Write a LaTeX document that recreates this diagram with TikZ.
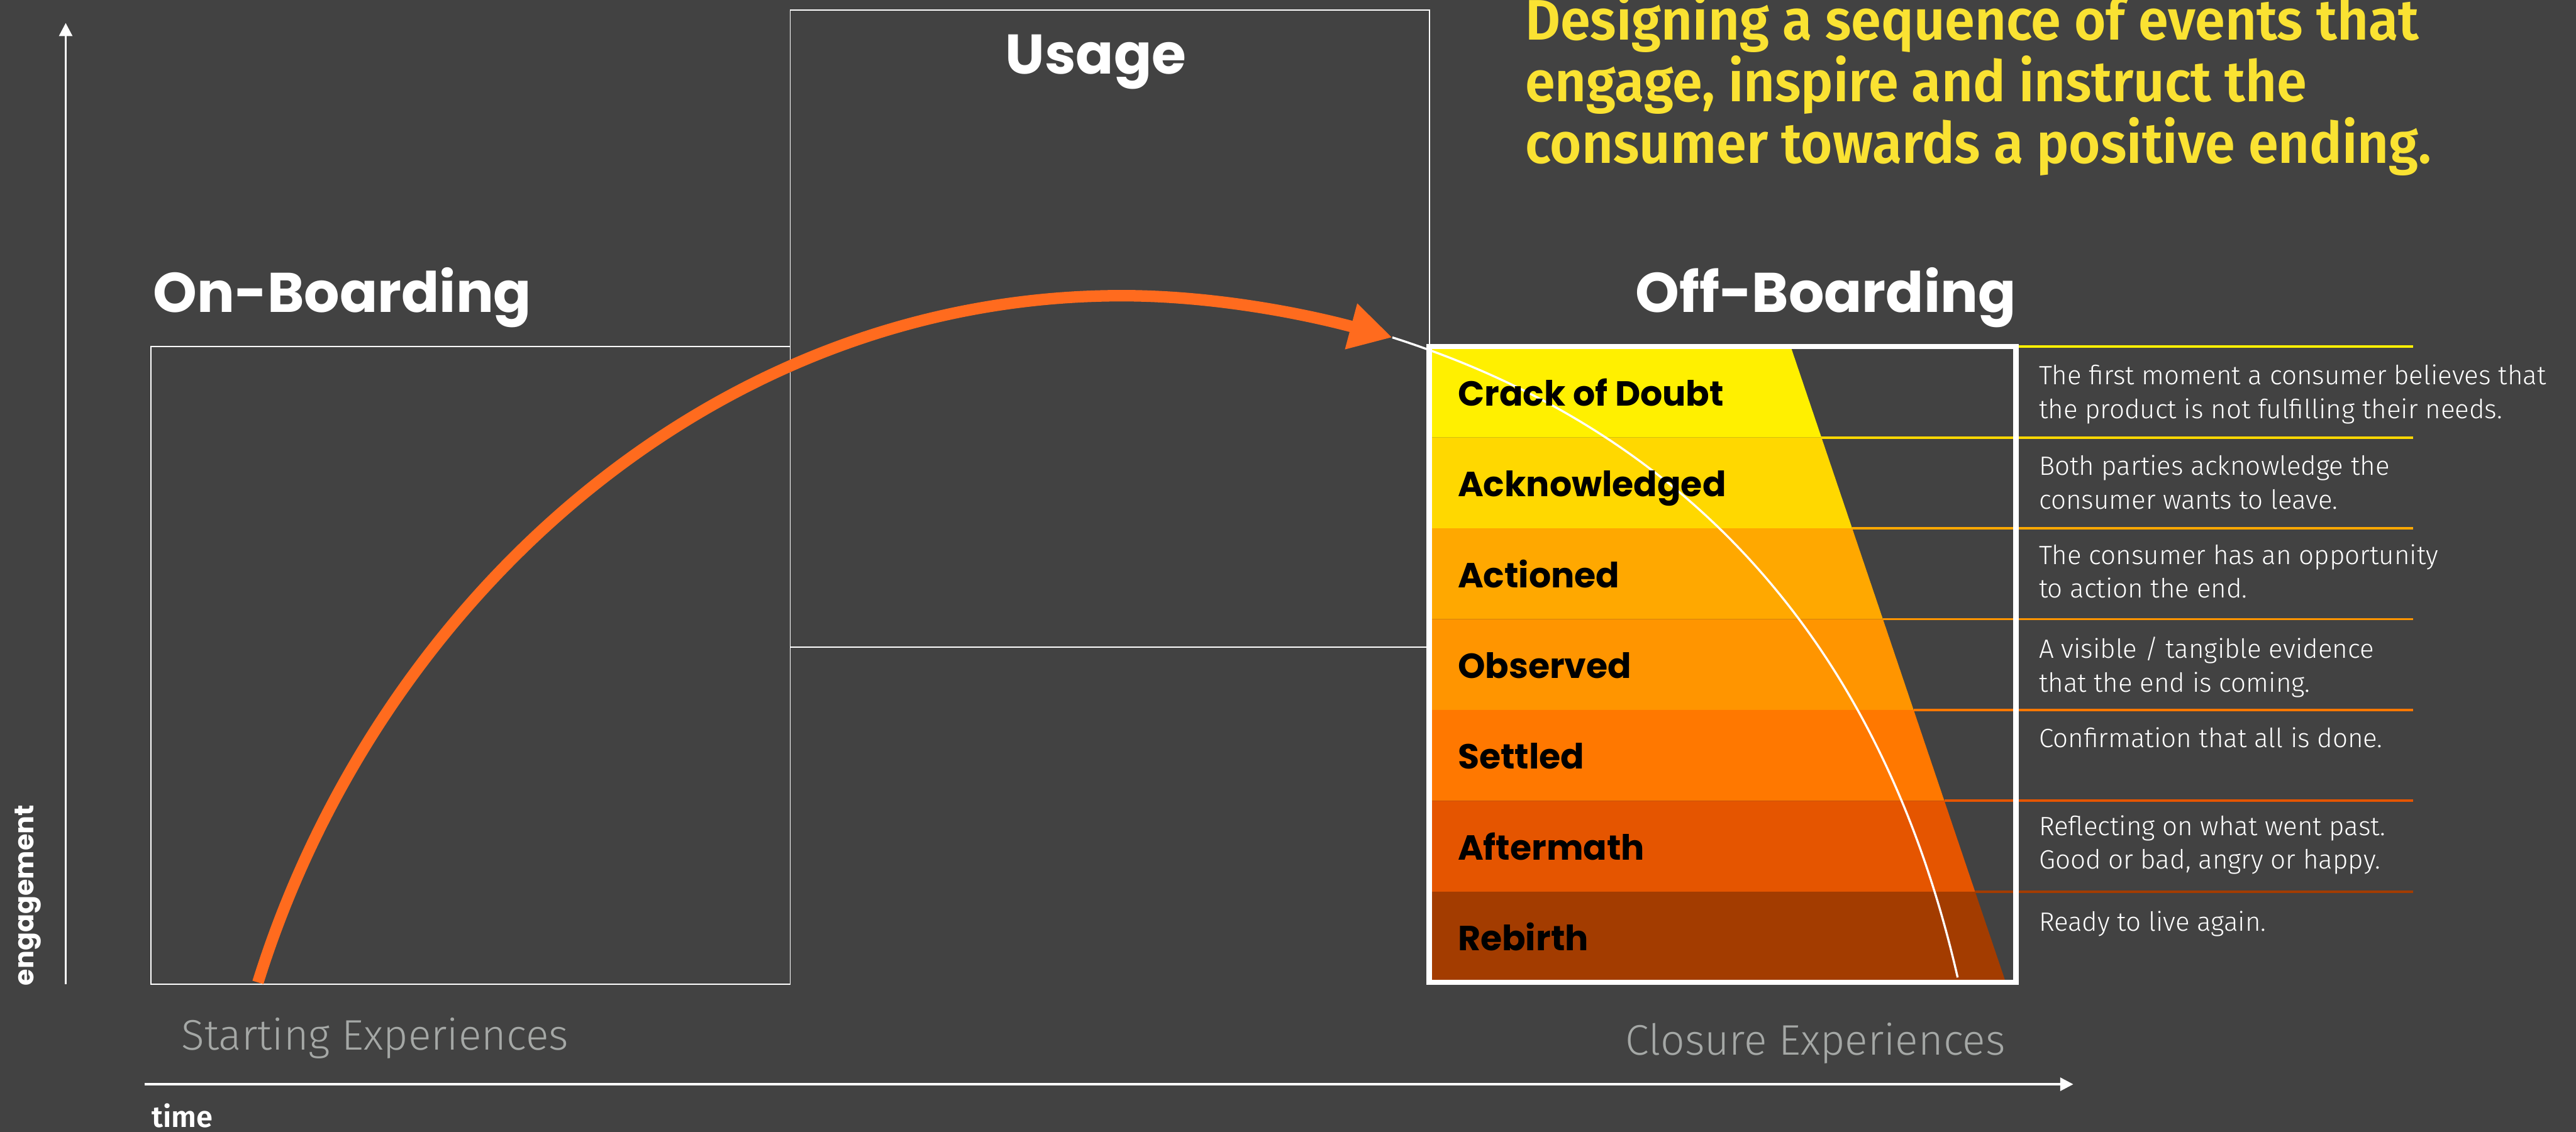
\documentclass[tikz,border=0pt]{standalone}
\usepackage{fontspec}
\usepackage{tikz}
\newfontfamily\headfont{Poppins}
\newfontfamily\semifont{Fira Sans}[UprightFont=* SemiBold]
\newfontfamily\titlefont{Fira Sans}[UprightFont=* SemiBold, FakeStretch=0.95]
\newfontfamily\lightfont{Fira Sans}[UprightFont=* Light]
\definecolor{bgrey}{RGB}{66,66,66}
\definecolor{arcorange}{RGB}{255,107,30}
\definecolor{titley}{RGB}{250,226,50}
\definecolor{expgrey}{RGB}{165,168,166}
\definecolor{b1}{RGB}{255,240,0}
\definecolor{b2}{RGB}{255,216,0}
\definecolor{b3}{RGB}{255,168,0}
\definecolor{b4}{RGB}{255,149,0}
\definecolor{b5}{RGB}{255,120,0}
\definecolor{b6}{RGB}{229,85,0}
\definecolor{b7}{RGB}{163,60,0}
\usetikzlibrary{arrows.meta}
\tikzset{
  head/.style = {white, font=\headfont\bfseries\fontsize{17}{20}\selectfont},% phase titles
  band_lbl/.style = {anchor=base west, black,
    font=\headfont\bfseries\fontsize{10.6}{13}\selectfont},% off-boarding steps
  desc/.style = {anchor=base west, align=left, white,
    font=\lightfont\fontsize{8.05}{10.3}\selectfont},% step explanations (base = last line)
  exper/.style = {anchor=base west, expgrey,
    font=\lightfont\fontsize{13}{16}\selectfont},
  phase/.style = {draw=white, line width=0.35pt},
  axis/.style = {white, line width=0.7pt, -{Triangle[length=4pt,width=4pt]}},
}

\begin{document}
\begin{tikzpicture}[x=0.5pt, y=-0.5pt, every node/.style={inner sep=0pt}]
  \useasboundingbox (0,0) rectangle (1568,689);
  \fill[bgrey] (0,0) rectangle (1568,689);

  %   axes
  \coordinate (y0) at (40,599);
  \coordinate (y1) at (40,14);
  \coordinate (x0) at (88,660);
  \coordinate (x1) at (1262,660);
  \draw[axis] (y0) -- (y1);
  \draw[axis] (x0) -- (x1);
  \node[rotate=90, white, font=\headfont\bfseries\fontsize{8.2}{10}\selectfont] (eng) at (17,545) {engagement};
  \node[anchor=base west, white, font=\semifont\fontsize{9}{10}\selectfont] (tm) at (92,686) {time};

  %   phase boxes
  \draw[phase] (92,211) rectangle (481,599);
  \draw[phase] (481,6) rectangle (870,394);

  %   off-boarding steps
  \foreach \i/\c in {0/b1, 1/b2, 2/b3, 3/b4, 4/b5, 5/b6, 6/b7}{
    \pgfmathsetmacro\yt{211+55.29*\i}
    \pgfmathsetmacro\yb{\yt+55.29}
    \fill[\c] (870,\yt) -- ({1090+18.7*\i},\yt) -- ({1108.7+18.7*\i},\yb) -- (870,\yb) -- cycle;
    \draw[\c, line width=0.75pt] ({1090+18.7*\i},\yt) -- (1469,\yt);
  }

  \coordinate (a0) at (157,598);
  \coordinate (a1) at (683,180);
  \coordinate (tip) at (847.5,205.4);
  \coordinate (w1) at (1191.6,595);
  \draw[white, line width=0.65pt] (tip) .. controls (1036.2,265.6) and (1147.4,402) .. (w1);
  \draw[white, line width=1.65pt] (870,211) rectangle (1227,598);
  \draw[arcorange, line width=3.5pt, -{Triangle[length=13pt,width=13.5pt]}]
    (a0) .. controls (228,370) and (430,180) .. (a1)
         .. controls (738.7,180) and (793.7,191) .. (tip);

  \foreach \i/\lab in {0/Crack of Doubt, 1/Acknowledged, 2/Actioned,
      3/Observed, 4/Settled, 5/Aftermath, 6/Rebirth}
    \node[band_lbl] (l\i) at (887,{211+55.29*\i+36}) {\lab};

  \node[desc] (d0) at (1240.7,254.7) {The first moment a consumer believes that\\the product is not fulfilling their needs.};
  \node[desc] (d1) at (1240.7,309.9) {Both parties acknowledge the\\consumer wants to leave.};
  \node[desc] (d2) at (1240.7,364) {The consumer has an opportunity\\to action the end.};
  \node[desc] (d3) at (1240.7,421.3) {A visible / tangible evidence\\that the end is coming.};
  \node[desc] (d4) at (1240.7,454.9) {Confirmation that all is done.};
  \node[desc] (d5) at (1240.7,529) {Reflecting on what went past.\\Good or bad, angry or happy.};
  \node[desc] (d6) at (1240.7,566.8) {Ready to live again.};

  %   headings
  \node[head, anchor=base west] (on) at (93,190) {On-Boarding};
  \node[head, anchor=base] (use) at (667,45) {Usage};
  \node[head, anchor=base west] (off) at (995,190) {Off-Boarding};
  \node[anchor=base west, align=left, titley, font=\titlefont\fontsize{17.4}{17.3}\selectfont] (ttl) at (928,99.5)
    {Designing a sequence of events that\\engage, inspire and instruct the\\consumer towards a positive ending.};

  \node[exper] (se) at (110,639) {Starting Experiences};
  \node[exper] (ce) at (989,642) {Closure Experiences};
\end{tikzpicture}
\end{document}
